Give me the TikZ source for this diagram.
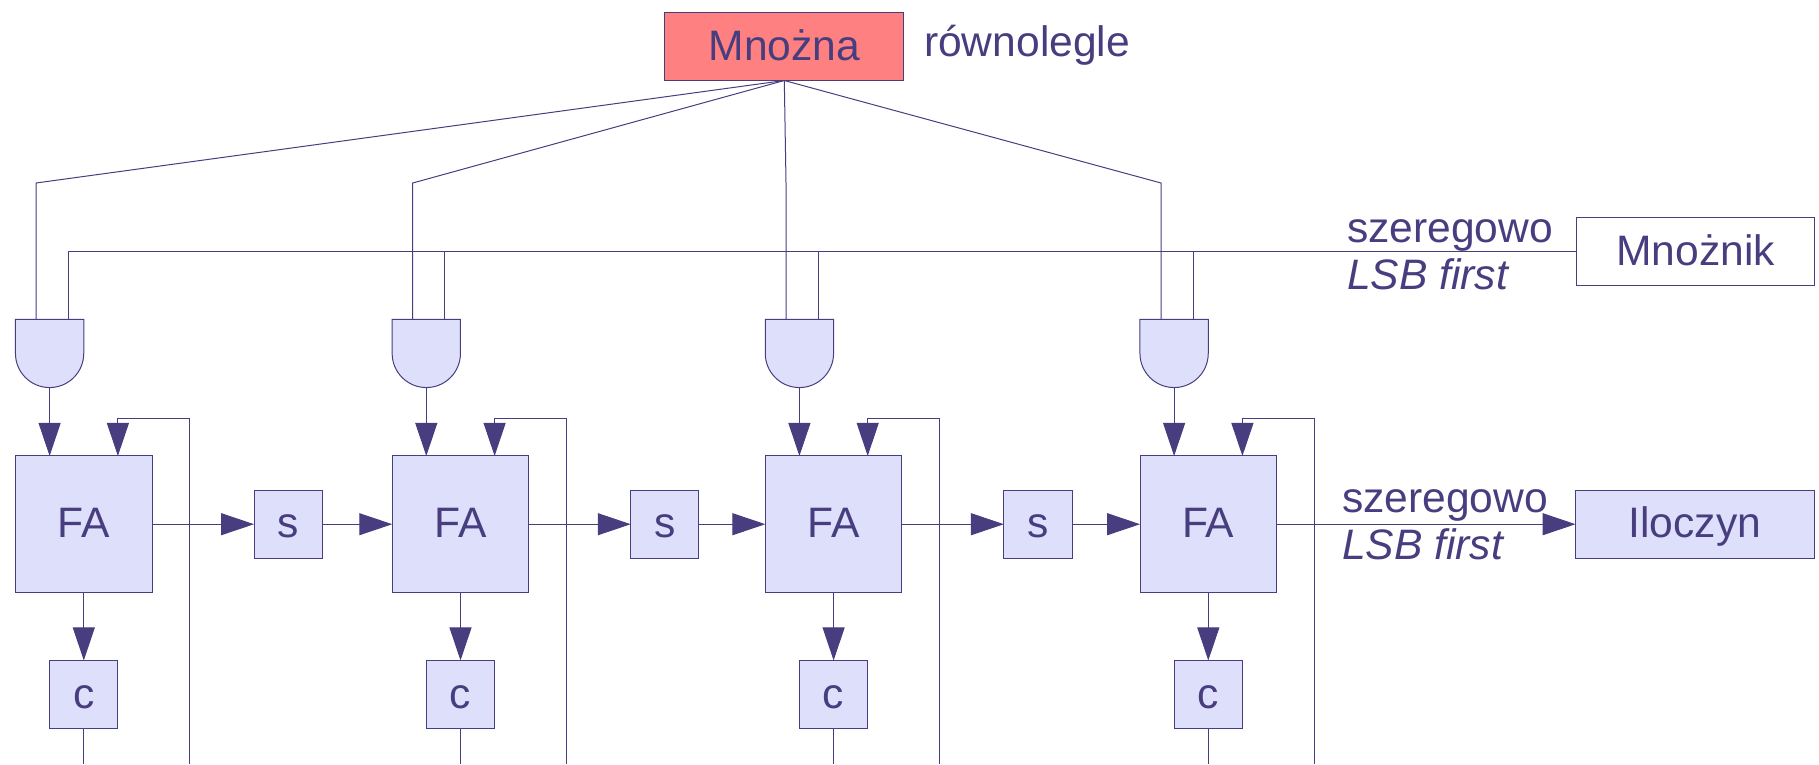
\documentclass[tikz,border=0pt]{standalone}
\usepackage{fontspec}
\setmainfont{Liberation Sans}
\usetikzlibrary{positioning,arrows.meta}
\definecolor{ink}{HTML}{483D7F}
\definecolor{boxfill}{HTML}{DEE0FB}
\definecolor{mnfill}{HTML}{FF8080}
\tikzset{
  wire/.style={draw=ink, line width=1pt},
  flow/.style={wire, -{Triangle[length=33pt,width=22pt,fill=ink]}},
  txt/.style={text=ink, font=\fontsize{42.6}{50}\selectfont, inner sep=0pt, outer sep=0pt},
  wide/.style={txt, wire, minimum width=238.7pt, minimum height=68pt, text height=30pt, text depth=2.6pt},
  fabox/.style={txt, wire, fill=boxfill, minimum size=136.5pt, text height=30pt, text depth=2.6pt},
  regbox/.style={txt, wire, fill=boxfill, minimum size=68.2pt, text height=30pt, text depth=2.6pt},
  andnode/.style={inner sep=0pt, outer sep=0pt, minimum size=68.3pt},
  andshape/.style={wire, fill=boxfill}
}
\newcommand{\gateshape}[1]{\draw[andshape] (#1.north west) -- (#1.north east) -- (#1.east) arc[start angle=0,end angle=-180,radius=34.15pt] -- cycle;}
\begin{document}
\begin{tikzpicture}[x=1pt,y=-1pt]
  \useasboundingbox (0,0) rectangle (1819,764);

  \node[wide, fill=mnfill] (mnozna) at (784.3,46.5) {Mnożna};
  \node[wide] (mnoznik) at (1695.6,251.3) {Mnożnik};
  \node[txt, anchor=base west] (par) at (924,56.7) {równolegle};
  \node[txt, anchor=base west] (ser1) at (1347,242.7) {szeregowo};
  \node[txt, anchor=base west] (lsb1) at (1347,289.3) {\itshape LSB first};
  \node[txt, anchor=base west] (ser2) at (1342,512) {szeregowo};
  \node[txt, anchor=base west] (lsb2) at (1342,559) {\itshape LSB first};

  \node[fabox] (fa1) at (83.8,524.2) {FA};
  \node[regbox, right=102pt of fa1] (s1) {s};
  \node[fabox, right=70pt of s1] (fa2) {FA};
  \node[regbox, right=102pt of fa2] (s2) {s};
  \node[fabox, right=66.4pt of s2] (fa3) {FA};
  \node[regbox, right=102pt of fa3] (s3) {s};
  \node[fabox, right=68pt of s3] (fa4) {FA};
  \node[wide, fill=boxfill, right=299pt of fa4] (iloczyn) {Iloczyn};

  \node[regbox, below=68pt of fa1] (c1) {c};
  \node[regbox, below=68pt of fa2] (c2) {c};
  \node[regbox, below=68pt of fa3] (c3) {c};
  \node[regbox, below=68pt of fa4] (c4) {c};

  \node[andnode, above=68.4pt of fa1, xshift=-34.2pt] (and1) {};
  \node[andnode, above=68.4pt of fa2, xshift=-34.2pt] (and2) {};
  \node[andnode, above=68.4pt of fa3, xshift=-34.2pt] (and3) {};
  \node[andnode, above=68.4pt of fa4, xshift=-34.2pt] (and4) {};
  \gateshape{and1}
  \gateshape{and2}
  \gateshape{and3}
  \gateshape{and4}

  \coordinate (top1) at (36,183);
  \coordinate (top2) at (412.7,183);
  \coordinate (top3) at (786,183);
  \coordinate (top4) at (1161,183);
  \draw[wire] (mnozna.south) -- (top1) -- (top1 |- and1.north);
  \draw[wire] (mnozna.south) -- (top2) -- (top2 |- and2.north);
  \draw[wire] (mnozna.south) -- (top3) -- (top3 |- and3.north);
  \draw[wire] (mnozna.south) -- (top4) -- (top4 |- and4.north);

  \coordinate (bus1) at (68.3,251.3);
  \coordinate (bus2) at (444.7,251.3);
  \coordinate (bus3) at (818.3,251.3);
  \coordinate (bus4) at (1193.3,251.3);
  \draw[wire] (mnoznik.west) -- (bus1) -- (bus1 |- and1.north);
  \draw[wire] (bus2) -- (bus2 |- and2.north);
  \draw[wire] (bus3) -- (bus3 |- and3.north);
  \draw[wire] (bus4) -- (bus4 |- and4.north);

  \draw[flow] (and1.south) -- (and1.south |- fa1.north);
  \draw[flow] (and2.south) -- (and2.south |- fa2.north);
  \draw[flow] (and3.south) -- (and3.south |- fa3.north);
  \draw[flow] (and4.south) -- (and4.south |- fa4.north);

  \draw[flow] (fa1) -- (s1);
  \draw[flow] (s1) -- (fa2);
  \draw[flow] (fa2) -- (s2);
  \draw[flow] (s2) -- (fa3);
  \draw[flow] (fa3) -- (s3);
  \draw[flow] (s3) -- (fa4);
  \draw[flow] (fa4) -- (iloczyn);

  \draw[flow] (fa1) -- (c1);
  \draw[flow] (fa2) -- (c2);
  \draw[flow] (fa3) -- (c3);
  \draw[flow] (fa4) -- (c4);

  \coordinate (back1) at (189.7,418);
  \coordinate (back2) at (566.3,418);
  \coordinate (back3) at (939.8,418);
  \coordinate (back4) at (1314.7,418);
  \coordinate (low) at (0,764);
  \draw[flow] (back1 |- low) -- (back1) -| (c1.east |- fa1.north);
  \draw[flow] (back2 |- low) -- (back2) -| (c2.east |- fa2.north);
  \draw[flow] (back3 |- low) -- (back3) -| (c3.east |- fa3.north);
  \draw[flow] (back4 |- low) -- (back4) -| (c4.east |- fa4.north);

  \draw[wire] (c1) -- (c1 |- low);
  \draw[wire] (c2) -- (c2 |- low);
  \draw[wire] (c3) -- (c3 |- low);
  \draw[wire] (c4) -- (c4 |- low);
\end{tikzpicture}
\end{document}
